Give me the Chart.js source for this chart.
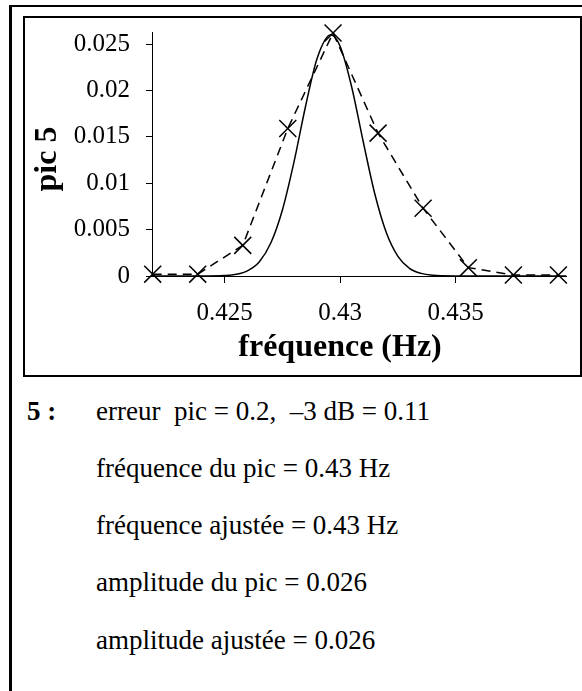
<!DOCTYPE html>
<html>
<head>
<meta charset="utf-8">
<script src="https://cdn.jsdelivr.net/npm/chart.js@4"></script>
<style>
    body { margin: 0; background: #fff; width: 582px; height: 691px; overflow: hidden; position: relative; font-family: 'Liberation Serif', 'Times New Roman', serif; }
    .outer { position: absolute; left: 9px; top: 5px; width: 700px; height: 800px; border-left: 3px solid #000; border-top: 2px solid #000; }
    .inner { position: absolute; left: 23px; top: 16px; width: 555px; height: 357px; border: 2px solid #000; background: #fff; }
    .inner canvas { position: absolute; left: 0; top: 0; }
    .txt { position: absolute; left: 96px; font-size: 27px; line-height: 30px; white-space: pre; color: #000; }
    .num { position: absolute; left: 27px; font-size: 27px; line-height: 30px; font-weight: bold; white-space: pre; }
</style>
</head>
<body>
<div class="outer"></div>
<div class="inner"><canvas id="myChart" width="555" height="357"></canvas></div>

<div class="num" style="top: 396px;">5 :</div>
<div class="txt" style="top: 396px;">erreur  pic = 0.2,  –3 dB = 0.11</div>
<div class="txt" style="top: 453px;">fréquence du pic = 0.43 Hz</div>
<div class="txt" style="top: 510px;">fréquence ajustée = 0.43 Hz</div>
<div class="txt" style="top: 567px;">amplitude du pic = 0.026</div>
<div class="txt" style="top: 625px;">amplitude ajustée = 0.026</div>

<script>
// spectrum points (crosses, dashed line)
const peakFreq = [0.42188, 0.42383, 0.42578, 0.42773, 0.42969, 0.43164, 0.43359, 0.43555, 0.4375, 0.43945];
const peakAmp = [0.0002, 0.0002, 0.0033, 0.0159, 0.0262, 0.0154, 0.0073, 0.0009, 0.0001, 0.0001];

// fitted curve (solid line)
const fitFreq = [0.4218, 0.4240, 0.4250, 0.4255, 0.4260, 0.4265, 0.4270, 0.4275, 0.4280, 0.4285, 0.4290, 0.42959,
    0.4300, 0.4305, 0.4310, 0.4315, 0.4320, 0.4325, 0.4330, 0.4335, 0.4340, 0.4350, 0.4398];
const fitAmp = [0, 0, 0.00005, 0.00018, 0.00058, 0.00154, 0.00358, 0.00714, 0.0123, 0.0183, 0.02345, 0.0260,
    0.02474, 0.02035, 0.01444, 0.00884, 0.00466, 0.00212, 0.00083, 0.00028, 0.00008, 0.00001, 0];

const xTicks = [0.425, 0.43, 0.435];
const yTicks = [0, 0.005, 0.01, 0.015, 0.02, 0.025];
const yTickLabels = ['0', '0.005', '0.01', '0.015', '0.02', '0.025'];

const xTitle = 'fréquence (Hz)';
const yTitle = 'pic 5';

document.addEventListener('DOMContentLoaded', () => {
    const ctx = document.getElementById('myChart').getContext('2d');

    // axis titles drawn by hand so they sit where the original has them
    const axisTitles = {
        id: 'axisTitles',
        afterDraw(chart) {
            const c = chart.ctx;
            c.save();
            c.fillStyle = '#000';
            c.font = "bold 32px 'Liberation Serif'";
            c.textAlign = 'center';
            c.textBaseline = 'middle';
            c.fillText(xTitle, 315, 330);
            c.translate(23, 141);
            c.rotate(-Math.PI / 2);
            c.fillText(yTitle, 0, 0);
            c.restore();
        }
    };

    new Chart(ctx, {
        type: 'scatter',
        data: {
            datasets: [{
                label: 'pic',
                data: peakFreq.map((f, i) => ({ x: f, y: peakAmp[i] })),
                showLine: true,
                borderColor: '#000',
                borderWidth: 1.5,
                borderDash: [9, 6],
                pointStyle: 'crossRot',
                pointRadius: 12,
                pointBorderWidth: 1.5,
                pointBorderColor: '#000',
                clip: false,
                tension: 0
            }, {
                label: 'ajustement',
                data: fitFreq.map((f, i) => ({ x: f, y: fitAmp[i] })),
                showLine: true,
                borderColor: '#000',
                borderWidth: 1.5,
                pointRadius: 0,
                cubicInterpolationMode: 'monotone'
            }]
        },
        options: {
            responsive: false,
            animation: false,
            events: [],
            layout: { padding: { left: 0, right: 5, top: 14, bottom: 0 } },
            plugins: {
                legend: { display: false },
                tooltip: { enabled: false }
            },
            scales: {
                x: {
                    type: 'linear',
                    min: 0.42185,
                    max: 0.4398,
                    afterBuildTicks: s => { s.ticks = xTicks.map(v => ({ value: v })); },
                    afterFit: s => { s.height = 99; s.paddingLeft = 0; s.paddingRight = 0; },
                    grid: { drawOnChartArea: false, drawTicks: true, tickLength: 7, color: '#000' },
                    border: { display: true, color: '#000', width: 1 },
                    ticks: {
                        color: '#000',
                        padding: 15,
                        maxRotation: 0,
                        font: { family: "'Liberation Serif'", size: 25 },
                        callback: v => String(v)
                    }
                },
                y: {
                    min: 0,
                    max: 0.0263,
                    afterBuildTicks: s => { s.ticks = yTicks.map(v => ({ value: v })); },
                    afterFit: s => { s.width = 127; s.paddingTop = 0; s.paddingBottom = 0; },
                    grid: { drawOnChartArea: false, drawTicks: true, tickLength: 6, color: '#000' },
                    border: { display: true, color: '#000', width: 1 },
                    ticks: {
                        color: '#000',
                        padding: 16,
                        font: { family: "'Liberation Serif'", size: 25 },
                        callback: (v, i) => yTickLabels[i]
                    }
                }
            }
        },
        plugins: [axisTitles]
    });
});
</script>
</body>
</html>
